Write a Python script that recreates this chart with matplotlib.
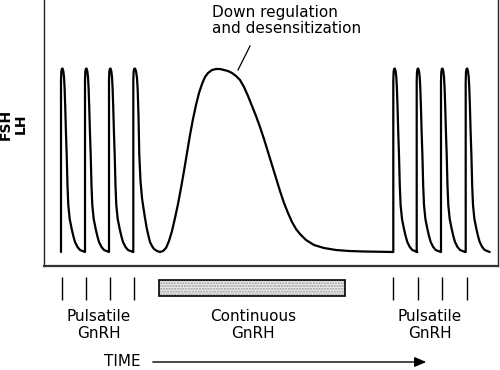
import matplotlib
matplotlib.use("Agg")
import matplotlib.pyplot as plt
import numpy as np

# ---- data (time units ~ px from left axis, level ~ px above baseline axis) ----
# single GnRH-driven LH/FSH pulse shape: offset in time after onset, and level
pulse_shape_dt = [0, 0, 0.3, 0.8, 1.5, 2.3, 3, 3.6, 4.2, 4.9, 5.7, 6.5, 7.3, 8.7,
                  10.7, 12.3, 14, 16.5, 19, 24]
pulse_shape_level = [14, 185, 194, 197, 197.5, 195, 189, 178, 160, 135, 111, 80, 61, 47,
                     37, 30, 24, 19, 16, 14]
pulse_onsets_first = [17, 41, 65]
pulse_onsets_second = [349.3, 372.7, 397, 421.7]

# last pulse of the first series followed by the response to continuous GnRH
hump_time = [89.3, 89.3, 89.6, 90.1, 91, 92, 93, 93.7, 94.5, 95.3, 96.5, 98, 99, 101,
             102.7, 104.5, 106, 108, 110, 113, 116, 119, 122, 125, 128, 131, 134, 137,
             140, 143, 146, 149, 152, 155, 158, 161, 164, 168, 172, 176, 180, 184, 188,
             192, 196, 200, 204, 208, 212, 216, 220, 224, 228, 232, 236, 240, 244, 248,
             252, 256, 262, 270, 280, 292, 305, 320, 349.3]
hump_level = [14, 185, 194, 197, 197.5, 195, 188, 176, 150, 111, 85, 68, 61, 48,
              38, 30, 24, 20, 17, 15, 14, 15, 18, 25, 35, 48, 62, 78,
              95, 113, 131, 147, 161, 173, 182, 189, 193, 196, 197, 197, 196, 195, 193,
              190, 186, 179, 170, 160, 150, 139, 127, 114, 101, 88, 75, 63, 53, 44,
              37, 32, 26, 21, 18, 16, 15, 14.5, 14]

# GnRH administration
gnrh_pulse_times = [18, 42, 66, 90, 349, 374, 398, 423]
continuous_start = 115
continuous_end = 301

W, H = 500, 370
fig = plt.figure(figsize=(5, 3.7), dpi=100)

def fx(px):
    return px / W

def fy(py):
    return 1 - py / H

# main axes (pixel box: x 44..498, y 0..266)
ax = fig.add_axes([fx(44), fy(266), (498 - 44) / W, 266 / H])

t_parts, l_parts = [], []
for onset in pulse_onsets_first:
    t_parts.append(np.array(pulse_shape_dt) + onset)
    l_parts.append(np.array(pulse_shape_level))
t_parts.append(np.array(hump_time))
l_parts.append(np.array(hump_level))
for onset in pulse_onsets_second:
    t_parts.append(np.array(pulse_shape_dt) + onset)
    l_parts.append(np.array(pulse_shape_level))
t = np.concatenate(t_parts)
lvl = np.concatenate(l_parts)

ax.plot(t, lvl, color="black", lw=1.6, solid_joinstyle="round", solid_capstyle="round")
ax.set_xlim(0, 454)
ax.set_ylim(0, 266)
ax.set_xticks([])
ax.set_yticks([])
ax.spines["top"].set_visible(False)
for s in ["left", "right"]:
    ax.spines[s].set_linewidth(1.0)
    ax.spines[s].set_color("#222222")
ax.spines["bottom"].set_linewidth(1.6)
ax.spines["bottom"].set_color("#333333")

# annotation
fig.text(fx(212), fy(5), "Down regulation\nand desensitization",
         ha="left", va="top", fontsize=11, linespacing=1.05, family="DejaVu Sans")
fig.add_artist(plt.Line2D([fx(250), fx(238)], [fy(46), fy(70)], color="black", lw=0.9,
                          transform=fig.transFigure))

# GnRH administration axes (pixel y 270..302)
ax2 = fig.add_axes([fx(44), fy(302), (498 - 44) / W, 32 / H])
ax2.set_xlim(0, 454)
ax2.set_ylim(0, 32)
ax2.axis("off")
ax2.vlines(gnrh_pulse_times, 2, 25, color="black", lw=1.0)
ax2.barh([14], [continuous_end - continuous_start], left=[continuous_start], height=16,
         color="#ececec", edgecolor="#9a9a9a", lw=0, hatch="......")
ax2.barh([14], [continuous_end - continuous_start], left=[continuous_start], height=16,
         color="none", edgecolor="black", lw=1.2)

# labels
lab_kw = dict(ha="center", va="center", fontsize=11, linespacing=1.15, family="DejaVu Sans")
fig.text(fx(99), fy(325), "Pulsatile\nGnRH", **lab_kw)
fig.text(fx(253), fy(325), "Continuous\nGnRH", **lab_kw)
fig.text(fx(430), fy(325), "Pulsatile\nGnRH", **lab_kw)

fig.text(fx(104), fy(362), "TIME", ha="left", va="center", fontsize=11, family="DejaVu Sans")
fig.add_artist(matplotlib.patches.FancyArrowPatch((fx(150), fy(362)), (fx(429), fy(362)),
                                                  transform=fig.transFigure,
                                                  arrowstyle="-|>,head_length=7,head_width=3",
                                                  color="black", lw=1.0, mutation_scale=1))

fig.text(fx(13), fy(124), "FSH\nLH", rotation=90, ha="center", va="center",
         fontsize=10, fontweight="bold", linespacing=1.05,
         family=["Liberation Sans Narrow", "DejaVu Sans"])

fig.savefig("out.png", dpi=100)
